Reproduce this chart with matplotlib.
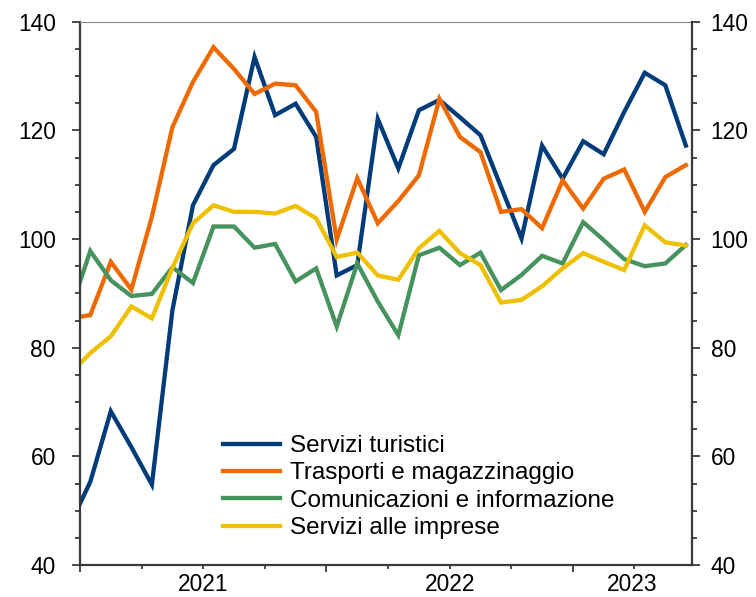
import matplotlib
matplotlib.use("Agg")
import matplotlib.pyplot as plt
from matplotlib.ticker import MultipleLocator

plt.rcParams['font.family'] = ['Liberation Sans', 'DejaVu Sans']

# monthly data, Dec 2020 - Jun 2023 (first point sits just left of the axis)
months = ['2020-12',
          '2021-01', '2021-02', '2021-03', '2021-04', '2021-05', '2021-06',
          '2021-07', '2021-08', '2021-09', '2021-10', '2021-11', '2021-12',
          '2022-01', '2022-02', '2022-03', '2022-04', '2022-05', '2022-06',
          '2022-07', '2022-08', '2022-09', '2022-10', '2022-11', '2022-12',
          '2023-01', '2023-02', '2023-03', '2023-04', '2023-05', '2023-06']

turistici = [47.3, 55.3, 68.3, 61.7, 54.8, 86.9, 106.2, 113.6, 116.6, 133.5, 122.8, 124.9, 118.8,
             93.3, 95.2, 122.1, 113.0, 123.7, 125.6, 122.4, 119.1, 109.6, 100.1, 117.2, 111.1,
             118.0, 115.6, 123.4, 130.6, 128.3, 117.2]
trasporti = [85.4, 86.0, 95.8, 90.7, 104.1, 120.6, 128.9, 135.3, 131.3, 126.7, 128.6, 128.3, 123.4,
             99.9, 111.2, 102.9, 107.0, 111.7, 125.8, 118.8, 116.0, 105.0, 105.5, 102.0, 110.8,
             105.6, 111.1, 112.8, 105.0, 111.4, 113.6]
comunicazioni = [86.4, 97.8, 92.4, 89.5, 89.9, 94.8, 91.9, 102.3, 102.3, 98.4, 99.1, 92.2, 94.6,
                 83.9, 95.5, 88.5, 82.3, 97.0, 98.4, 95.2, 97.5, 90.6, 93.4, 96.9, 95.5,
                 103.1, 99.8, 96.3, 95.0, 95.5, 98.9]
imprese = [75.2, 79.0, 82.1, 87.6, 85.4, 94.7, 102.9, 106.2, 105.0, 105.0, 104.7, 106.1, 103.8,
           96.7, 97.5, 93.3, 92.5, 98.3, 101.5, 97.4, 95.2, 88.3, 88.8, 91.3, 94.6,
           97.4, 95.8, 94.3, 102.5, 99.4, 98.8]

labels = ['Servizi turistici', 'Trasporti e magazzinaggio',
          'Comunicazioni e informazione', 'Servizi alle imprese']
colors = ['#003B7A', '#EE6A00', '#46935F', '#EFC000']
years = ['2021', '2022', '2023']

# x position: months since Jan 2021, plotted at mid-month
x = [(int(m[:4]) - 2021) * 12 + int(m[5:]) - 1 + 0.5 for m in months]
x_right = 29.8

fig = plt.figure(figsize=(7.56, 5.97), dpi=100)
ax = fig.add_axes([80 / 756, 32 / 597, 612 / 756, 543.3 / 597])

for series, lab, col in zip([turistici, trasporti, comunicazioni, imprese], labels, colors):
    ax.plot(x, series, color=col, lw=3.1, label=lab, solid_joinstyle='miter')

ax.set_xlim(0, x_right)
ax.set_ylim(40, 140)

spine_col = '#3a3a3a'
for s in ['left', 'bottom']:
    ax.spines[s].set_color(spine_col)
    ax.spines[s].set_linewidth(1.6)
ax.spines['right'].set_visible(False)
ax.spines['top'].set_color('#8a8a8a')
ax.spines['top'].set_linewidth(0.8)

# y axis
ax.yaxis.set_major_locator(MultipleLocator(20))
ax.yaxis.set_minor_locator(MultipleLocator(5))
ax.tick_params(axis='y', which='major', length=5.5, width=1.3, color=spine_col,
               labelsize=16.4, pad=12)
ax.tick_params(axis='y', which='minor', length=3.5, width=1.3, color=spine_col)

ax2 = ax.twinx()
ax2.set_ylim(40, 140)
ax2.yaxis.set_major_locator(MultipleLocator(20))
ax2.yaxis.set_minor_locator(MultipleLocator(5))
for s in ['left', 'bottom', 'top']:
    ax2.spines[s].set_visible(False)
ax2.spines['right'].set_color(spine_col)
ax2.spines['right'].set_linewidth(1.6)
ax2.tick_params(axis='y', which='major', length=5.5, width=1.3, color=spine_col,
                labelsize=16.4, pad=8)
ax2.tick_params(axis='y', which='minor', length=3.5, width=1.3, color=spine_col)

# x axis: long ticks at year starts, short ticks at quarters
ax.set_xticks([0, 12, 24])
ax.set_xticklabels([])
ax.set_xticks([3, 6, 9, 15, 18, 21, 27], minor=True)
ax.tick_params(axis='x', which='major', length=5, width=1.3, color=spine_col)
ax.tick_params(axis='x', which='minor', length=3.2, width=1.3, color=spine_col)

for k, yr in enumerate(years):
    start = 12 * k
    end = min(start + 12, x_right)
    ax.annotate(yr, xy=((start + end) / 2, 0), xycoords=ax.get_xaxis_transform(),
                xytext=(0, -5.5), textcoords='offset points',
                ha='center', va='top', fontsize=16.4)

ax.legend(loc='upper left', bbox_to_anchor=(223 / 756, 1 - 435 / 597),
          bbox_transform=fig.transFigure, frameon=False, fontsize=17.5,
          borderpad=0, borderaxespad=0, labelspacing=0.22,
          handlelength=2.35, handletextpad=0.42)

fig.savefig('out.png', dpi=100)
